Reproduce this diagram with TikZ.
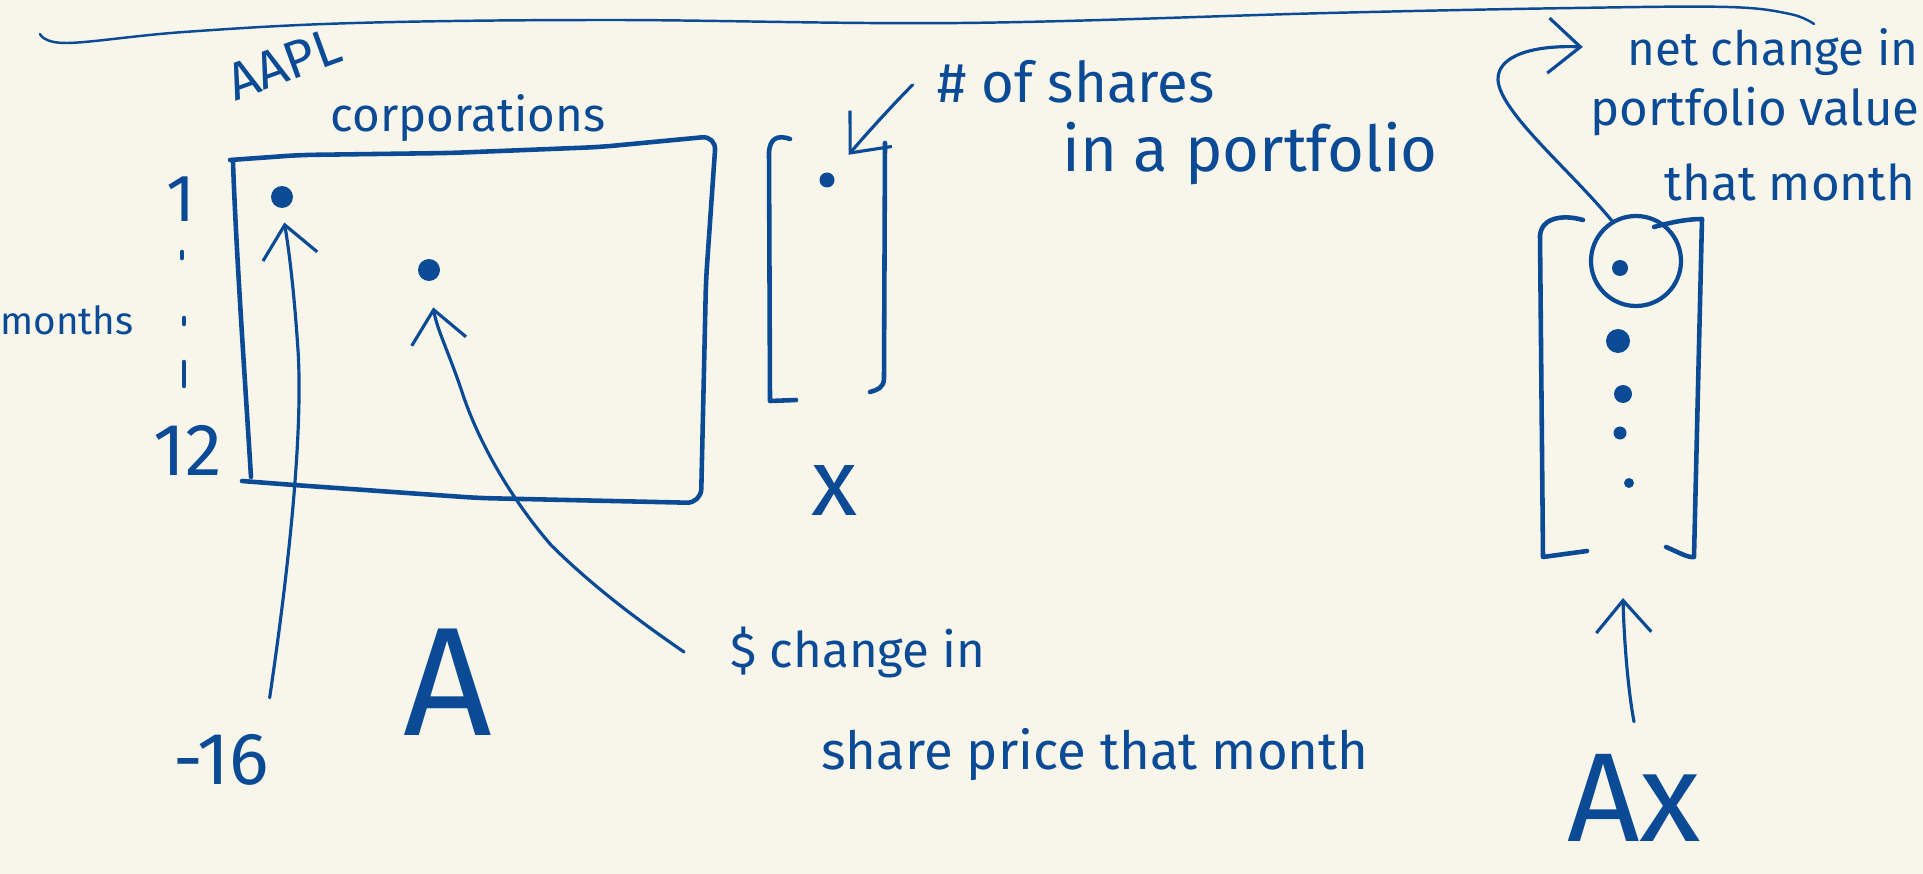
\documentclass[tikz,border=0pt]{standalone}
\usepackage{fontspec}
\setmainfont{Fira Sans}
\usetikzlibrary{arrows.meta}
\definecolor{ink}{HTML}{0B4A95}
\definecolor{paper}{HTML}{F8F6EA}

\begin{document}
\begin{tikzpicture}[
    x=0.1mm, y=-0.1mm,
    note/.style={text=ink, inner sep=0pt, font=\fontsize{14}{17}\selectfont},
    bigletter/.style={text=ink, inner sep=0pt, font=\fontsize{44}{48}\selectfont},
    numeral/.style={text=ink, inner sep=0pt, font=\fontsize{21}{24}\selectfont},
    blob/.style={circle, fill=ink, inner sep=0pt, minimum size=2.2mm},
    pen/.style={draw=ink, line width=1.3pt, line cap=round, line join=round},
    arrow/.style={draw=ink, line width=0.9pt, line cap=round, -{Straight Barb[length=3.2mm, width=5.5mm]}}
  ]

    % Paper
    \fill[paper] (0,0) rectangle (1923,874);
    \useasboundingbox (0,0) rectangle (1923,874);

    % Header rule
    \draw[pen, line width=0.7pt] plot[smooth, tension=0.6] coordinates {(40,34) (67,43) (184,32) (355,23) (612,20) (960,23) (1328,13) (1574,8) (1728,7) (1790,14) (1814,24)};

    % Matrix A - corporations by months
    \node[note, rotate=20, font=\fontsize{15}{18}\selectfont] (aapl) at (284,64) {AAPL};
    \node[note, font=\fontsize{13.5}{16}\selectfont] (corp) at (468,118) {corporations};
    \draw[pen] (251,477) .. controls (245,380) and (236,250) .. (233,162);
    \draw[pen, rounded corners=4pt] (230,160) -- (300,155) -- (450,153) -- (600,147) -- (716,136) -- (706,280) -- (701,503) -- (478,498) -- (294,485) -- (242,481);

    % Month index
    \node[numeral, font=\fontsize{19}{22}\selectfont] (m1) at (181,199) {1};
    \draw[pen] (182,252) -- (182,258);
    \draw[pen] (184,318) -- (184,324);
    \draw[pen] (184,362) -- (184,386);
    \node[numeral] (m12) at (188,450) {12};
    \node[note, font=\fontsize{11}{13}\selectfont] (months) at (67,320) {months};

    % Entries of A
    \node[blob] (aa) at (282,197) {};
    \node[blob] (ab) at (429,270) {};
    \node[numeral] (neg) at (221,760) {-16};
    \node[bigletter] (amat) at (448,682) {A};
    \node[note] (dchg) at (858,652) {\$ change in};
    \node[note, font=\fontsize{15}{18}\selectfont] (price) at (1095,755) {share price that month};
    \draw[arrow, shorten >=1.4mm] ([yshift=3.6mm]neg.north east) .. controls (290,560) and (303,430) .. (298,350) .. controls (294,290) and (289,250) .. (aa.south);
    \draw[arrow, shorten >=2.6mm] ([xshift=-4.6mm]dchg.west) .. controls (655,632) and (598,592) .. (551,545) .. controls (512,500) and (480,445) .. (463,395) .. controls (450,355) and (437,330) .. (ab.south);

    % Vector x
    \draw[pen] (790,139) .. controls (776,134) and (770,140) .. (769,152) -- (770,401) -- (796,400);
    \draw[pen] (885,143) -- (884,378) .. controls (884,388) and (877,390) .. (870,392);
    \node[blob, minimum size=1.5mm] (xdot) at (827,180) {};
    \node[bigletter, font=\fontsize{27}{30}\selectfont] (xvec) at (835,490) {x};
    \node[note, font=\fontsize{16}{19}\selectfont] (shares) at (1076,82) {\# of shares};
    \node[note, font=\fontsize{18}{21}\selectfont] (folio) at (1250,154) {in a portfolio};
    \draw[arrow, shorten >=2.5mm] ([xshift=-2.4mm, yshift=-0.3mm]shares.west) .. controls (915,82) and (880,118) .. (xdot);

    % Vector Ax
    \draw[pen] (1583,220) .. controls (1562,214) and (1541,218) .. (1540,236) -- (1543,557) -- (1587,551);
    \draw[pen] (1654,227) .. controls (1672,222) and (1688,219) .. (1702,219) -- (1694,557) .. controls (1688,558) and (1678,552) .. (1666,547);
    \node[circle, draw=ink, line width=1.2pt, minimum size=9mm, inner sep=0pt] (ring) at (1636,261) {};
    \node[blob, minimum size=1.6mm] (ax1) at (1620,268) {};
    \node[blob, minimum size=2.4mm] (ax2) at (1618,341) {};
    \node[blob, minimum size=1.8mm] (ax3) at (1623,394) {};
    \node[blob, minimum size=1.3mm] (ax4) at (1620,433) {};
    \node[blob, minimum size=1mm] (ax5) at (1629,483) {};
    \node[note, font=\fontsize{13.5}{16}\selectfont] (net) at (1773,52) {net change in};
    \node[note] (pval) at (1755,112) {portfolio value};
    \node[note] (tmonth) at (1790,182) {that month};
    \draw[arrow] (ring.121) .. controls (1570,170) and (1500,112) .. (1498,80) .. controls (1497,55) and (1535,45) .. ([xshift=-4.4mm, yshift=0.5mm]net.west);
    \node[bigletter, font=\fontsize{36}{40}\selectfont] (axlbl) at (1634,798) {Ax};
    \coordinate (axfoot) at (1623,598);
    \draw[arrow] ([yshift=3.2mm]axlbl.north) .. controls (1628,690) and (1624,640) .. (axfoot);

\end{tikzpicture}
\end{document}
